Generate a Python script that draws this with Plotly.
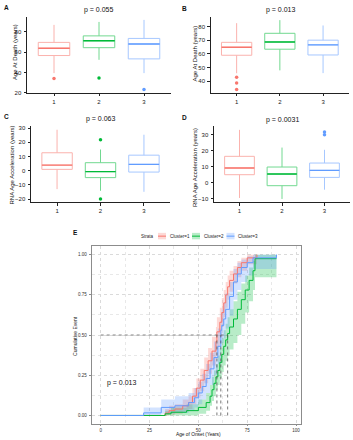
import plotly.graph_objects as go

W, H = 353, 440
FONT = "Liberation Sans, Arial, sans-serif"

# ---------------- data ----------------
groups = [1, 2, 3]
colors = ["#F8766D", "#00BA38", "#619CFF"]
bands = ["rgba(248,118,109,0.28)", "rgba(0,186,56,0.28)", "rgba(97,156,255,0.28)"]

# Panel A: Age at death
A_q1 = [56.7, 64.4, 53.4]
A_med = [63.8, 71.2, 68.0]
A_q3 = [69.6, 76.0, 73.5]
A_lo = [39.4, 52.5, 39.4]
A_hi = [86.8, 89.7, 91.7]
A_out_x = [1, 2, 3]
A_out_y = [34.0, 34.6, 23.3]

# Panel B: Age at death
B_q1 = [59.0, 63.4, 59.2]
B_med = [64.8, 68.7, 66.6]
B_q3 = [68.4, 75.0, 70.0]
B_lo = [45.9, 48.0, 46.0]
B_hi = [82.4, 84.6, 80.7]
B_out_x = [1, 1, 1]
B_out_y = [43.0, 38.8, 34.0]

# Panel C: RNA age acceleration
C_q1 = [0.9, -4.9, -1.0]
C_med = [3.9, -0.7, 4.4]
C_q3 = [12.6, 5.6, 10.9]
C_lo = [-13.0, -14.2, -14.9]
C_hi = [28.8, 14.9, 25.3]
C_out_x = [2, 2]
C_out_y = [21.8, -20.0]

# Panel D: RNA age acceleration
D_q1 = [5.0, -1.9, 3.3]
D_med = [9.2, 5.4, 7.7]
D_q3 = [16.5, 9.8, 12.3]
D_lo = [-9.6, -10.2, -4.4]
D_hi = [33.1, 22.0, 20.6]
D_out_x = [3, 3]
D_out_y = [31.7, 30.0]

p_values = ["p = 0.055", "p = 0.013", "p = 0.063", "p = 0.0031"]

# Panel E: cumulative event curves
E_t1 = [0, 33, 35, 38, 42, 45, 47, 49, 51, 53, 55, 57, 59, 59.5, 61, 62, 63, 64, 65, 66, 68, 70, 72, 75, 80]
E_s1 = [0, 0.015, 0.03, 0.04, 0.06, 0.08, 0.12, 0.17, 0.22, 0.28, 0.34, 0.40, 0.46, 0.52, 0.58, 0.64, 0.70, 0.75, 0.80, 0.84, 0.88, 0.92, 0.95, 0.98, 1.0]
E_l1 = [0, 0, 0.005, 0.01, 0.025, 0.04, 0.07, 0.11, 0.15, 0.20, 0.26, 0.31, 0.37, 0.43, 0.49, 0.55, 0.61, 0.67, 0.72, 0.77, 0.82, 0.86, 0.90, 0.94, 1.0]
E_u1 = [0, 0.04, 0.06, 0.07, 0.10, 0.12, 0.17, 0.23, 0.29, 0.36, 0.42, 0.49, 0.55, 0.61, 0.67, 0.73, 0.78, 0.83, 0.87, 0.90, 0.93, 0.96, 0.98, 1.0, 1.0]

E_t2 = [0, 33, 36, 44, 50, 54, 56, 57, 58, 59, 60, 61, 62, 63, 64, 65, 66, 68, 70, 72, 74, 76, 78, 79, 90]
E_s2 = [0, 0.01, 0.02, 0.03, 0.05, 0.08, 0.12, 0.16, 0.20, 0.24, 0.28, 0.33, 0.38, 0.43, 0.47, 0.51, 0.55, 0.60, 0.66, 0.72, 0.78, 0.84, 0.90, 0.975, 0.975]
E_l2 = [0, 0, 0, 0, 0.01, 0.03, 0.06, 0.09, 0.12, 0.16, 0.19, 0.23, 0.27, 0.31, 0.34, 0.37, 0.41, 0.45, 0.50, 0.57, 0.64, 0.71, 0.78, 0.86, 0.86]
E_u2 = [0, 0.03, 0.05, 0.07, 0.10, 0.14, 0.19, 0.24, 0.28, 0.32, 0.37, 0.42, 0.48, 0.53, 0.57, 0.61, 0.66, 0.71, 0.77, 0.82, 0.87, 0.92, 0.96, 1.0, 1.0]

E_t3 = [0, 22, 31, 38, 45, 48, 50, 52, 54, 56, 58, 60, 61.5, 62, 63, 64, 66, 68, 70, 72, 75, 78, 90]
E_s3 = [0, 0.016, 0.05, 0.06, 0.08, 0.11, 0.14, 0.18, 0.23, 0.29, 0.36, 0.43, 0.53, 0.56, 0.60, 0.66, 0.74, 0.83, 0.88, 0.92, 0.95, 0.98, 1.0]
E_l3 = [0, 0, 0.01, 0.015, 0.03, 0.05, 0.07, 0.10, 0.14, 0.19, 0.25, 0.32, 0.42, 0.45, 0.48, 0.54, 0.62, 0.72, 0.78, 0.83, 0.87, 0.91, 0.91]
E_u3 = [0, 0.05, 0.10, 0.12, 0.14, 0.17, 0.21, 0.26, 0.32, 0.39, 0.46, 0.54, 0.63, 0.66, 0.70, 0.76, 0.83, 0.91, 0.95, 0.97, 0.99, 1.0, 1.0]

E_medians = [59.5, 65.0, 61.5]
E_pval = "p = 0.013"
strata_labels = ["Cluster=1", "Cluster=2", "Cluster=3"]

# ---------------- figure ----------------
fig = go.Figure()

box_panels = [
    ("x", "y", A_q1, A_med, A_q3, A_lo, A_hi, A_out_x, A_out_y),
    ("x2", "y2", B_q1, B_med, B_q3, B_lo, B_hi, B_out_x, B_out_y),
    ("x3", "y3", C_q1, C_med, C_q3, C_lo, C_hi, C_out_x, C_out_y),
    ("x4", "y4", D_q1, D_med, D_q3, D_lo, D_hi, D_out_x, D_out_y),
]
BW = 0.7
for xa, ya, q1, med, q3, lo, hi, ox, oy in box_panels:
    for i, g in enumerate(groups):
        c = colors[i]
        fig.add_trace(go.Box(
            x=[g], q1=[q1[i]], median=[med[i]], q3=[q3[i]],
            lowerfence=[lo[i]], upperfence=[hi[i]],
            width=BW, whiskerwidth=0, fillcolor="white", boxpoints=False,
            line=dict(color=c, width=1), opacity=0.55,
            xaxis=xa, yaxis=ya, showlegend=False, hoverinfo="skip"))
        fig.add_trace(go.Scatter(
            x=[g - BW / 2, g + BW / 2], y=[med[i], med[i]], mode="lines",
            line=dict(color=c, width=1.4), xaxis=xa, yaxis=ya,
            showlegend=False, hoverinfo="skip"))
    fig.add_trace(go.Scatter(
        x=ox, y=oy, mode="markers",
        marker=dict(size=3.5, color=[colors[groups.index(v)] for v in ox]),
        xaxis=xa, yaxis=ya, showlegend=False, hoverinfo="skip"))

# Survival panel
curves = [(E_t1, E_s1, E_l1, E_u1), (E_t2, E_s2, E_l2, E_u2), (E_t3, E_s3, E_l3, E_u3)]
for i, (t, s, l, u) in enumerate(curves):
    fig.add_trace(go.Scatter(x=t, y=l, mode="lines", line=dict(width=0, shape="hv"),
                             xaxis="x5", yaxis="y5", showlegend=False, hoverinfo="skip"))
    fig.add_trace(go.Scatter(x=t, y=u, mode="lines", line=dict(width=0, shape="hv"),
                             fill="tonexty", fillcolor=bands[i],
                             xaxis="x5", yaxis="y5", showlegend=False, hoverinfo="skip"))
for i, (t, s, l, u) in enumerate(curves):
    fig.add_trace(go.Scatter(x=t, y=s, mode="lines", line=dict(width=1, shape="hv", color=colors[i]),
                             xaxis="x5", yaxis="y5", showlegend=False, hoverinfo="skip"))

# median lines
mmax = max(E_medians)
fig.add_trace(go.Scatter(x=[0, mmax], y=[0.5, 0.5], mode="lines",
                         line=dict(color="#555", width=0.8, dash="dot"),
                         xaxis="x5", yaxis="y5", showlegend=False, hoverinfo="skip"))
for m in E_medians:
    fig.add_trace(go.Scatter(x=[m, m], y=[0, 0.5], mode="lines",
                             line=dict(color="#555", width=0.8, dash="dot"),
                             xaxis="x5", yaxis="y5", showlegend=False, hoverinfo="skip"))


def px(v):
    return v / W


def py(v):
    return 1 - v / H


tickfont = dict(family=FONT, size=6, color="#222")


def box_axes(xdom, ydom, yrange, yticks, xname, yname):
    xa = dict(domain=[px(xdom[0]), px(xdom[1])], range=[0.4, 3.6], tickvals=groups,
              ticktext=[str(g) for g in groups], showline=True, linecolor="#222", linewidth=1,
              ticks="outside", ticklen=2.5, tickcolor="#222", tickfont=tickfont,
              showgrid=False, zeroline=False, fixedrange=True, anchor=yname)
    ya = dict(domain=[py(ydom[1]), py(ydom[0])], range=yrange, tickvals=yticks,
              ticktext=[str(v).replace("-", "\u2212") for v in yticks],
              showline=True, linecolor="#222", linewidth=1, ticks="outside", ticklen=2.5,
              tickcolor="#222", tickfont=tickfont, showgrid=False, zeroline=False,
              fixedrange=True, anchor=xname, ticklabelstandoff=1)
    return xa, ya


xa1, ya1 = box_axes((27, 171), (15.7, 92.7), [20, 95], [20, 40, 60, 80], "x", "y")
xa2, ya2 = box_axes((210.7, 349), (15.7, 92.7), [31.6, 87.2], [40, 50, 60, 70, 80], "x2", "y2")
xa3, ya3 = box_axes((31, 170), (126.5, 203.3), [-22.4, 31.2], [-20, -10, 0, 10, 20, 30], "x3", "y3")
xa4, ya4 = box_axes((214, 350), (126.5, 203.3), [-12.4, 35.3], [-10, 0, 10, 20, 30], "x4", "y4")

efont = dict(family=FONT, size=4.5, color="#333")
xa5 = dict(domain=[px(91.7), px(300.7)], range=[-4.6, 102.4], tickvals=[0, 25, 50, 75, 100],
           showline=True, mirror=True, linecolor="#8c8c8c", linewidth=1, ticks="outside",
           ticklen=1.5, tickcolor="#8c8c8c", tickfont=efont, showgrid=True, gridcolor="#dadada",
           griddash="dot", gridwidth=0.8, zeroline=False, anchor="y5",
           minor=dict(showgrid=True, gridcolor="#e8e8e8", griddash="dot", dtick=12.5, tick0=12.5),
           fixedrange=True)
ya5 = dict(domain=[py(426.7), py(247.7)], range=[-0.052, 1.051],
           tickvals=[0, 0.25, 0.5, 0.75, 1.0], ticktext=["0.00", "0.25", "0.50", "0.75", "1.00"],
           showline=True, mirror=True, linecolor="#8c8c8c", linewidth=1, ticks="outside",
           ticklen=2, tickcolor="#8c8c8c", tickfont=efont, showgrid=True, gridcolor="#dadada",
           griddash="dot", gridwidth=0.8, zeroline=False, anchor="x5", ticklabelstandoff=1,
           minor=dict(showgrid=True, gridcolor="#e8e8e8", griddash="dot", dtick=0.125, tick0=0.125),
           fixedrange=True)

annotations = []
# panel letters
for letter, (lx, ly) in zip("ABCDE", [(1.5, 1.5), (180, 2.5), (1.5, 111.5), (180, 112.5), (71, 228)]):
    annotations.append(dict(text=f"<b>{letter}</b>", x=px(lx), y=py(ly), xref="paper", yref="paper",
                            xanchor="left", yanchor="top", showarrow=False,
                            font=dict(family=FONT, size=6.5, color="#111")))
# p-value titles
for txt, (cx, cy) in zip(p_values, [(98, 9), (280, 9), (100, 119.5), (282, 120)]):
    annotations.append(dict(text=txt, x=px(cx), y=py(cy), xref="paper", yref="paper",
                            xanchor="center", yanchor="middle", showarrow=False,
                            font=dict(family=FONT, size=7, color="#111")))
# y titles
for txt, (cx, cy) in zip(["Age At Death (years)", "Age At Death (years)",
                          "RNA Age Acceleration (years)", "RNA Age Acceleration (years)"],
                         [(14.5, 52), (195, 53), (12, 166), (195.5, 168)]):
    annotations.append(dict(text=txt, x=px(cx), y=py(cy), xref="paper", yref="paper",
                            xanchor="center", yanchor="middle", showarrow=False, textangle=-90,
                            font=dict(family=FONT, size=6, color="#111")))
# E titles
annotations.append(dict(text="Cumulative Event", x=px(75), y=py(338), xref="paper", yref="paper",
                        xanchor="center", yanchor="middle", showarrow=False, textangle=-90,
                        font=dict(family=FONT, size=5, color="#111")))
annotations.append(dict(text="Age of Onset (Years)", x=px(199), y=py(437.6), xref="paper", yref="paper",
                        xanchor="center", yanchor="middle", showarrow=False,
                        font=dict(family=FONT, size=4.8, color="#111")))
annotations.append(dict(text=E_pval, x=2, y=0.2, xref="x5", yref="y5", xanchor="left",
                        yanchor="middle", showarrow=False, font=dict(family=FONT, size=7, color="#111")))

# manual legend for E
shapes = []
annotations.append(dict(text="Strata", x=px(138.5), y=py(237.3), xref="paper", yref="paper",
                        xanchor="left", yanchor="middle", showarrow=False,
                        font=dict(family=FONT, size=4.5, color="#222")))
leg_x = [158, 192, 226.5]
for i, lab in enumerate(strata_labels):
    x0 = leg_x[i]
    shapes.append(dict(type="rect", xref="paper", yref="paper", x0=px(x0), x1=px(x0 + 8),
                       y0=py(240.5), y1=py(234), fillcolor=bands[i], line=dict(width=0)))
    shapes.append(dict(type="line", xref="paper", yref="paper", x0=px(x0), x1=px(x0 + 8),
                       y0=py(237.3), y1=py(237.3), line=dict(color=colors[i], width=1)))
    annotations.append(dict(text=lab, x=px(x0 + 9.5), y=py(237.3), xref="paper", yref="paper",
                            xanchor="left", yanchor="middle", showarrow=False,
                            font=dict(family=FONT, size=4.5, color="#222")))

fig.update_layout(
    width=W, height=H, margin=dict(l=0, r=0, t=0, b=0),
    paper_bgcolor="white", plot_bgcolor="white", showlegend=False,
    font=dict(family=FONT),
    xaxis=xa1, yaxis=ya1, xaxis2=xa2, yaxis2=ya2, xaxis3=xa3, yaxis3=ya3,
    xaxis4=xa4, yaxis4=ya4, xaxis5=xa5, yaxis5=ya5,
    annotations=annotations, shapes=shapes,
)

fig.write_html("out.html", config={"displayModeBar": False},
               post_script="document.body.style.margin='0';document.body.style.overflow='hidden';")
